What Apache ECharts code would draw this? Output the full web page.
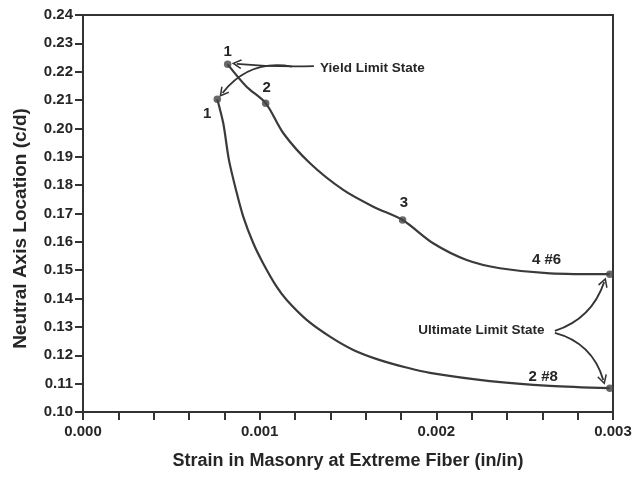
<!DOCTYPE html>
<html>
<head>
<meta charset="utf-8">
<script src="https://cdn.jsdelivr.net/npm/echarts@6/dist/echarts.min.js"></script>
<style>
html,body{margin:0;padding:0;background:#fff;}
#chart{width:635px;height:480px;}
</style>
</head>
<body>
<div id="chart"></div>
<script>
// ---- data (strain in/in, neutral axis c/d) ----
var curve6 = [
  [0.000819,0.2226],[0.000926,0.2147],[0.001034,0.2089],[0.001134,0.1983],
  [0.001285,0.1877],[0.001473,0.1783],[0.001643,0.1724],[0.001809,0.1677],
  [0.001982,0.1595],[0.002172,0.1536],[0.002360,0.1507],[0.002643,0.1489],
  [0.002982,0.1486]
];
var curve8 = [
  [0.000760,0.2103],[0.000794,0.2018],[0.000826,0.1889],[0.000866,0.1783],
  [0.000907,0.1689],[0.000964,0.1595],[0.001020,0.1524],[0.001096,0.1442],
  [0.001153,0.1395],[0.001266,0.1325],[0.001398,0.1266],[0.001530,0.1219],
  [0.001681,0.1183],[0.001830,0.1157],[0.001964,0.1138],[0.002303,0.1109],
  [0.002643,0.1092],[0.002982,0.1084]
];
var keyPoints6 = [[0.000819,0.2226],[0.001034,0.2089],[0.001809,0.1677],[0.002982,0.1486]];
var keyPoints8 = [[0.000760,0.2103],[0.002982,0.1084]];

var xTitle = 'Strain in Masonry at Extreme Fiber (in/in)';
var yTitle = 'Neutral Axis Location (c/d)';

// annotation texts anchored in data coordinates
var annotations = [
  {text:'1', at:[0.000819,0.2271]},
  {text:'2', at:[0.001040,0.2142]},
  {text:'3', at:[0.001817,0.1736]},
  {text:'1', at:[0.000703,0.2053]},
  {text:'4 #6', at:[0.002624,0.1536]},
  {text:'2 #8', at:[0.002605,0.1125]},
  {text:'Yield Limit State', at:[0.001638,0.2212]},
  {text:'Ultimate Limit State', at:[0.002255,0.1289]}
];
// arrows: [start, end, curveness]
var arrows = [
  [[0.001307,0.2220],[0.000870,0.2228],0.03],
  [[0.001183,0.2218],[0.000790,0.2125],-0.3],
  [[0.002671,0.1286],[0.002950,0.1458],-0.25],
  [[0.002671,0.1279],[0.002945,0.1113],0.28]
];

var FONT = '"Liberation Sans", Arial, sans-serif';
var INK = '#262626';
var arrowHead = 'path://M0,0 L6,9 L4.6,10 L0,3.2 L-4.6,10 L-6,9 Z';

var chart = echarts.init(document.getElementById('chart'), null, {renderer:'canvas'});
var option = {
  backgroundColor:'#ffffff',
  animation:false,
  grid:{left:83,right:22,top:15,bottom:68,show:true,borderColor:'#333',borderWidth:2,backgroundColor:'transparent'},
  xAxis:{
    type:'value',min:0,max:0.003,interval:0.0002,
    name:xTitle,nameLocation:'middle',nameGap:40,
    nameTextStyle:{fontFamily:FONT,fontWeight:'bold',fontSize:18,color:INK},
    axisLine:{show:true,onZero:false,lineStyle:{color:'#333',width:2}},
    axisTick:{show:true,inside:false,length:8,lineStyle:{color:'#333',width:2}},
    splitLine:{show:false},
    axisLabel:{
      margin:12,fontFamily:FONT,fontWeight:'bold',fontSize:15,color:INK,
      formatter:function(v){ var k=Math.round(v*5000); return (k%5===0)? (k/5000).toFixed(3) : ''; }
    }
  },
  yAxis:{
    type:'value',min:0.10,max:0.24,interval:0.01,
    name:yTitle,nameLocation:'middle',nameGap:53,
    nameTextStyle:{fontFamily:FONT,fontWeight:'bold',fontSize:19,color:INK,padding:[0,30,0,0]},
    axisLine:{show:true,onZero:false,lineStyle:{color:'#333',width:2}},
    axisTick:{show:true,inside:false,length:8,lineStyle:{color:'#333',width:2}},
    splitLine:{show:false},
    axisLabel:{margin:10,fontFamily:FONT,fontWeight:'bold',fontSize:15,color:INK,
      formatter:function(v){return v.toFixed(2);}}
  },
  series:[
    {type:'line',data:curve6,smooth:0.3,showSymbol:false,silent:true,
     lineStyle:{color:'#3a3a3a',width:2.2}},
    {type:'line',data:curve8,smooth:0.3,showSymbol:false,silent:true,
     lineStyle:{color:'#3a3a3a',width:2.2}},
    {type:'lines',coordinateSystem:'cartesian2d',silent:true,z:4,
     symbol:['none',arrowHead],symbolSize:10,
     lineStyle:{color:'#333',width:1.8,opacity:1},
     data:arrows.map(function(a){return {coords:[a[0],a[1]],lineStyle:{curveness:a[2]}};})
    },
    {type:'scatter',data:keyPoints6.concat(keyPoints8),symbol:'circle',symbolSize:7.5,silent:true,
     itemStyle:{color:'#444'},z:5,
     markPoint:{
       silent:true,symbol:'circle',symbolSize:0,
       label:{show:true,position:'inside',fontFamily:FONT,fontWeight:'bold',fontSize:15,color:INK,
         formatter:function(p){return p.name;}},
       data:annotations.map(function(a){return {name:a.text,coord:a.at,
         label:(a.text.length>4?{fontSize:13.5}:{fontSize:15})};})
     }
    }
  ]
};
chart.setOption(option);
</script>
</body>
</html>
